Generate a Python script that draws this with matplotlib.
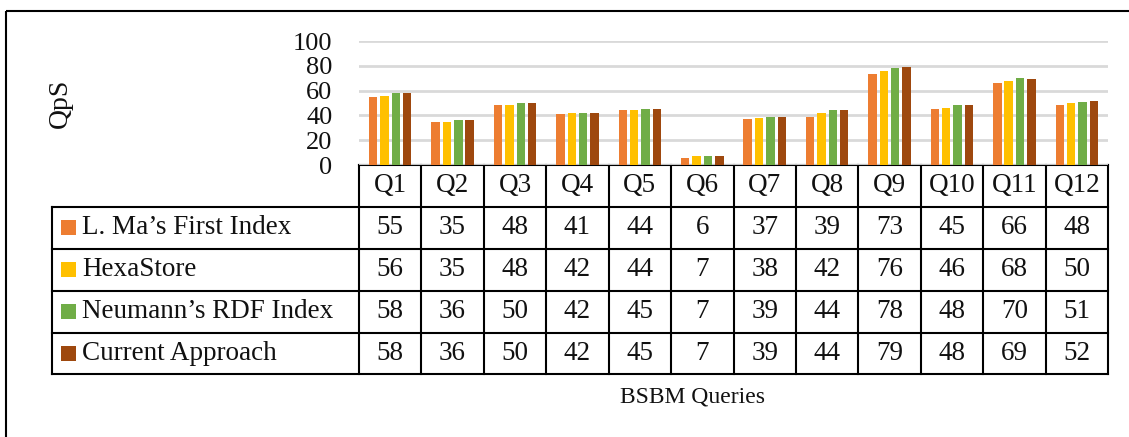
import matplotlib
matplotlib.use("Agg")
import matplotlib.pyplot as plt
from matplotlib.transforms import blended_transform_factory
from matplotlib.patches import Rectangle

queries = ["Q1", "Q2", "Q3", "Q4", "Q5", "Q6", "Q7", "Q8", "Q9", "Q10", "Q11", "Q12"]
series_names = ["L. Ma\u2019s First Index", "HexaStore", "Neumann\u2019s RDF Index", "Current Approach"]
lma_first = [55, 35, 48, 41, 44, 6, 37, 39, 73, 45, 66, 48]
hexastore = [56, 35, 48, 42, 44, 7, 38, 42, 76, 46, 68, 50]
neumann_rdf = [58, 36, 50, 42, 45, 7, 39, 44, 78, 48, 70, 51]
current = [58, 36, 50, 42, 45, 7, 39, 44, 79, 48, 69, 52]
series_values = [lma_first, hexastore, neumann_rdf, current]
colors = ["#ED7D31", "#FFC000", "#70AD47", "#9E480E"]
y_ticks = [0, 20, 40, 60, 80, 100]

plt.rcParams["font.family"] = ["Liberation Serif", "DejaVu Serif"]
FS = 19.5
TEXT = "#111111"

W, H = 1129, 437
fig = plt.figure(figsize=(W / 100, H / 100), dpi=100)

# overlay in pixel coordinates for frame and table
ov = fig.add_axes([0, 0, 1, 1])
ov.set_xlim(0, W)
ov.set_ylim(H, 0)
ov.axis("off")

# bar area
x0, x1, ytop, ybot = 359, 1108, 41, 165
ax = fig.add_axes([x0 / W, 1 - ybot / H, (x1 - x0) / W, (ybot - ytop) / H])
n = len(queries)
pitch = 0.182
bw = 0.135
for j, (vals, c) in enumerate(zip(series_values, colors)):
    xs = [i + (j - 1.5) * pitch for i in range(n)]
    ax.bar(xs, vals, width=bw, color=c, zorder=3)
ax.set_xlim(-0.5, n - 0.5)
ax.set_ylim(0, 100)
ax.set_yticks(y_ticks)
ax.set_yticklabels([str(v) for v in y_ticks], fontsize=19, color=TEXT)
ax.set_xticks([])
ax.tick_params(axis="y", length=0, pad=19)
for s in ax.spines.values():
    s.set_visible(False)
ax.yaxis.grid(True, color="#D9D9D9", linewidth=2)
ax.set_axisbelow(True)
ax.patch.set_alpha(0)

# outer frame (top and left edges)
ov.plot([6, W], [11, 11], color="black", lw=1.5, solid_capstyle="butt")
ov.plot([6, 6], [11, H], color="black", lw=1.5, solid_capstyle="butt")

# data table
tr = blended_transform_factory(ax.transData, ov.transData)
row_edges = [165, 206.5, 248.5, 290.5, 332.5, 374]
label_left = 52
lw = 1.5
ov.plot([x0, x1], [row_edges[0], row_edges[0]], color="black", lw=lw)
for y in row_edges[1:]:
    ov.plot([label_left, x1], [y, y], color="black", lw=lw)
ov.plot([label_left, label_left], [row_edges[1], row_edges[-1]], color="black", lw=lw)
for i in range(n + 1):
    ov.plot([i - 0.5, i - 0.5], [row_edges[0], row_edges[-1]], color="black", lw=lw,
            transform=tr, clip_on=False)

# header row
for i, q in enumerate(queries):
    yc = (row_edges[0] + row_edges[1]) / 2
    ov.text(i, yc, q, transform=tr, ha="center", va="center", fontsize=FS,
            color=TEXT, clip_on=False)

# series rows
for r, (name, vals, c) in enumerate(zip(series_names, series_values, colors)):
    yc = (row_edges[r + 1] + row_edges[r + 2]) / 2
    ov.add_patch(Rectangle((61, yc - 7.5), 15, 15, facecolor=c, edgecolor="none"))
    ov.text(82, yc, name, ha="left", va="center", fontsize=FS, color=TEXT)
    for i, v in enumerate(vals):
        ov.text(i, yc, str(v), transform=tr, ha="center", va="center", fontsize=FS,
                color=TEXT, clip_on=False)

# axis titles
ov.text(60, 103, "QpS", rotation=90, ha="center", va="center", fontsize=20, color=TEXT)
ov.text(693, 397, "BSBM Queries", ha="center", va="center", fontsize=17, color=TEXT)

fig.savefig("out.png", dpi=100)
